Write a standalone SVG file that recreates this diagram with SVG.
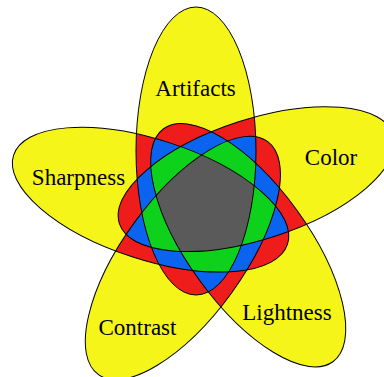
<svg xmlns="http://www.w3.org/2000/svg" width="384" height="377" viewBox="0 0 384 377">
<style>
.y{fill:#f5f51a}.r{fill:#ef1c1c}.b{fill:#0a64f0}.g{fill:#0ed11c}.k{fill:#5a5a5a}
.o{fill:none;stroke:#000;stroke-width:1}
text{font-family:"Liberation Serif","Times New Roman",serif;font-size:23px;fill:#000;text-anchor:middle}
</style>
<defs>
<ellipse id="e0" cx="196" cy="151" rx="60" ry="144"/>
<ellipse id="e1" cx="196" cy="151" rx="60" ry="144" transform="rotate(72 206.8 206.6)"/>
<ellipse id="e2" cx="196" cy="151" rx="60" ry="144" transform="rotate(144 206.8 206.6)"/>
<ellipse id="e3" cx="196" cy="151" rx="60" ry="144" transform="rotate(216 206.8 206.6)"/>
<ellipse id="e4" cx="196" cy="151" rx="60" ry="144" transform="rotate(288 206.8 206.6)"/>
<clipPath id="c0"><use href="#e0"/></clipPath>
<clipPath id="c1"><use href="#e1"/></clipPath>
<clipPath id="c2"><use href="#e2"/></clipPath>
<clipPath id="c3"><use href="#e3"/></clipPath>
<clipPath id="c4"><use href="#e4"/></clipPath>
</defs>
<g id="set-artifacts"><use href="#e0" class="y"/><text x="195.5" y="96">Artifacts</text></g>
<g id="set-color"><use href="#e1" class="y"/><text x="331" y="165">Color</text></g>
<g id="set-lightness"><use href="#e2" class="y"/><text x="287" y="320">Lightness</text></g>
<g id="set-contrast"><use href="#e3" class="y"/><text x="137.5" y="335">Contrast</text></g>
<g id="set-sharpness"><use href="#e4" class="y"/><text x="78.5" y="185">Sharpness</text></g>
<g id="overlap-2" class="r">
<use href="#e1" clip-path="url(#c0)"/><use href="#e2" clip-path="url(#c0)"/><use href="#e3" clip-path="url(#c0)"/><use href="#e4" clip-path="url(#c0)"/>
<use href="#e2" clip-path="url(#c1)"/><use href="#e3" clip-path="url(#c1)"/><use href="#e4" clip-path="url(#c1)"/>
<use href="#e3" clip-path="url(#c2)"/><use href="#e4" clip-path="url(#c2)"/>
<use href="#e4" clip-path="url(#c3)"/>
</g>
<g id="overlap-3" class="b">
<g clip-path="url(#c0)"><use href="#e2" clip-path="url(#c1)"/><use href="#e3" clip-path="url(#c1)"/><use href="#e4" clip-path="url(#c1)"/><use href="#e3" clip-path="url(#c2)"/><use href="#e4" clip-path="url(#c2)"/><use href="#e4" clip-path="url(#c3)"/></g>
<g clip-path="url(#c1)"><use href="#e3" clip-path="url(#c2)"/><use href="#e4" clip-path="url(#c2)"/><use href="#e4" clip-path="url(#c3)"/></g>
<g clip-path="url(#c2)"><use href="#e4" clip-path="url(#c3)"/></g>
</g>
<g id="overlap-4" class="g">
<g clip-path="url(#c0)"><g clip-path="url(#c1)"><use href="#e3" clip-path="url(#c2)"/><use href="#e4" clip-path="url(#c2)"/><use href="#e4" clip-path="url(#c3)"/></g><g clip-path="url(#c2)"><use href="#e4" clip-path="url(#c3)"/></g></g>
<g clip-path="url(#c1)"><g clip-path="url(#c2)"><use href="#e4" clip-path="url(#c3)"/></g></g>
</g>
<g id="overlap-5" class="k">
<g clip-path="url(#c0)"><g clip-path="url(#c1)"><g clip-path="url(#c2)"><use href="#e4" clip-path="url(#c3)"/></g></g></g>
</g>
<g id="outlines" class="o">
<use href="#e0"/><use href="#e1"/><use href="#e2"/><use href="#e3"/><use href="#e4"/>
</g>
</svg>
